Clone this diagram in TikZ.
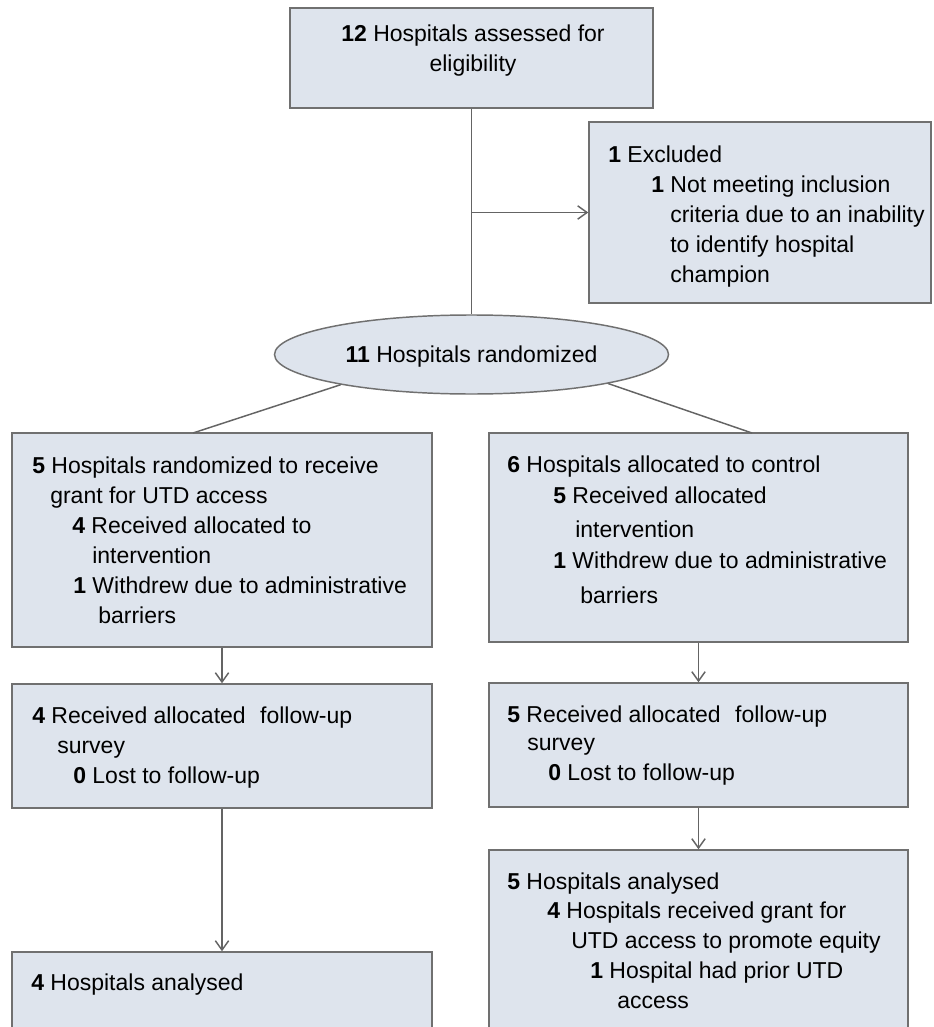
\documentclass[tikz,border=0pt]{standalone}
\usepackage{fontspec}
\setmainfont{Liberation Sans}
\usetikzlibrary{shapes.geometric,arrows.meta}
\newlength\pxu
\setlength\pxu{0.75pt}
\newcommand{\tline}[2]{\hbox{\kern#1\pxu\relax #2}}
\newcommand{\gapv}[1]{\vskip#1\pxu\relax}
\definecolor{boxfill}{RGB}{222,228,237}
\definecolor{boxline}{RGB}{112,112,112}
\definecolor{conn}{RGB}{100,100,100}
\begin{document}
\begin{tikzpicture}[x=0.75pt,y=-0.75pt,
  box/.style={draw=boxline,fill=boxfill,line width=1.1pt,rectangle,inner sep=0pt},
  ovalbox/.style={draw=boxline,fill=boxfill,line width=1.1pt,ellipse,inner sep=0pt},
  txt/.style={anchor=base west,inner sep=0pt,font=\fontsize{17.25}{22.5}\selectfont},
  ctxt/.style={anchor=base,inner sep=0pt,font=\fontsize{17.25}{22.5}\selectfont},
  conline/.style={draw=conn,line width=1.1pt},
  arr/.style={conline,-{Straight Barb[length=7pt,width=10pt]}}]
\clip (0,0) rectangle (933,1027);
\fill[white] (0,0) rectangle (933,1027);

% boxes
\node[box,minimum width=272.25pt,minimum height=75pt] (top) at (471.5,58) {};
\node[box,minimum width=256.5pt,minimum height=135.75pt] (ex) at (760,212.5) {};
\node[ovalbox,minimum width=295.5pt,minimum height=59.25pt] (ell) at (471.5,354.5) {};
\node[box,minimum width=315pt,minimum height=160.5pt] (b1) at (222,540) {};
\node[box,minimum width=314.25pt,minimum height=156.75pt] (c1) at (698.5,537.5) {};
\node[box,minimum width=315pt,minimum height=93pt] (b2) at (222,746) {};
\node[box,minimum width=314.25pt,minimum height=93pt] (c2) at (698.5,745) {};
\node[box,minimum width=314.25pt,minimum height=146.25pt] (c3) at (698.5,947.5) {};
\node[box,minimum width=315pt,minimum height=69.75pt] (b3) at (222,998.5) {};

% texts
\node[ctxt] (toptxt) at (473,41.7) {\vtop{\halign{\hfil#\hfil\cr
  \textbf{12} Hospitals assessed for\cr
  eligibility\cr}}};
\node[txt] (extxt) at (608,162) {\vtop{%
  \tline{0}{\textbf{1} Excluded}
  \tline{43}{\textbf{1} Not meeting inclusion}
  \tline{62}{criteria due to an inability}
  \tline{62}{to identify hospital}
  \tline{62}{champion}}};
\node[ctxt] (elltxt) at (471.5,362.5) {\textbf{11} Hospitals randomized};
\node[txt] (b1txt) at (32,473) {\vtop{%
  \tline{0}{\textbf{5} Hospitals randomized to receive}
  \tline{18}{grant for UTD access}
  \tline{40}{\textbf{4} Received allocated to}
  \tline{60}{intervention}
  \tline{41}{\textbf{1} Withdrew due to administrative}
  \tline{66}{barriers}}};
\node[txt] (c1txt) at (507,472) {\vtop{%
  \tline{0}{\textbf{6} Hospitals allocated to control}
  \gapv{1}
  \tline{46}{\textbf{5} Received allocated}
  \gapv{4}
  \tline{68}{intervention}
  \gapv{1}
  \tline{46}{\textbf{1} Withdrew due to administrative}
  \gapv{5}
  \tline{73}{barriers}}};
\node[txt] (b2txt) at (32,723) {\vtop{%
  \tline{0}{\textbf{4} Received allocated\hspace{0.35em} follow-up}
  \tline{25}{survey}
  \tline{41}{\textbf{0} Lost to follow-up}}};
\node[txt] (c2txt) at (507,722) {\vtop{%
  \tline{0}{\textbf{5} Received allocated\hspace{0.35em} follow-up}
  \gapv{-2}
  \tline{20}{survey}
  \tline{41}{\textbf{0} Lost to follow-up}}};
\node[txt] (c3txt) at (507,889) {\vtop{%
  \tline{0}{\textbf{5} Hospitals analysed}
  \gapv{-1}
  \tline{40}{\textbf{4} Hospitals received grant for}
  \tline{64}{UTD access to promote equity}
  \tline{83}{\textbf{1} Hospital had prior UTD}
  \tline{110}{access}}};
\node[txt] (b3txt) at (31,990) {\textbf{4} Hospitals analysed};

% connectors
\coordinate (j1) at (193,433);
\coordinate (j2) at (752,433);
\draw[conline] (top) -- (ell);
\draw[arr] (top.south |- ex.west) -- (ex.west);
\draw[conline] (ell.193) -- (j1);
\draw[conline] (ell.-12) -- (j2);
\draw[arr] (b1) -- (b2);
\draw[arr] (b2) -- (b3);
\draw[arr] (c1) -- (c2);
\draw[arr] (c2) -- (c3);
\end{tikzpicture}
\end{document}
